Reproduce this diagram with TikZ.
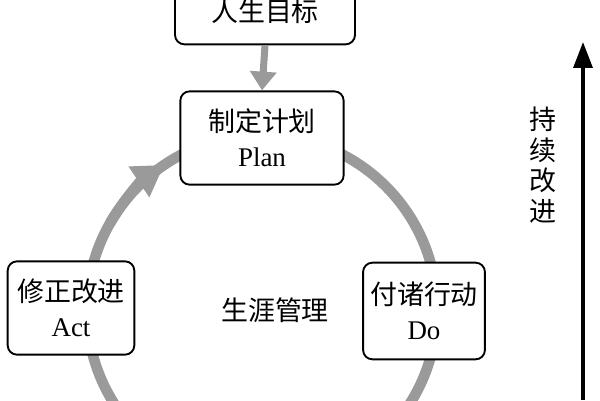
\documentclass[tikz,border=0pt]{standalone}
\usepackage{fontspec}
\setmainfont{Liberation Serif}
\newfontfamily\cjk{Noto Sans CJK SC}
\usetikzlibrary{arrows.meta,positioning}
\definecolor{cyclegray}{HTML}{9A9A9A}
\tikzset{
  stagebox/.style={draw, line width=1.6pt, rounded corners=8pt, fill=white, align=center,
    font=\fontsize{23}{30}\selectfont, inner sep=6pt},
}
\begin{document}
\begin{tikzpicture}[x=0.03cm,y=-0.03cm]
\useasboundingbox (0,0) rectangle (600,400);
\clip (0,0) rectangle (600,400);
% cycle
\draw[cyclegray, line width=9pt] (262,310) circle[radius=175];
\draw[cyclegray, line width=9pt, -{Triangle[length=26pt,width=30pt]}]
  ([shift={(210:175)}]262,310) arc[start angle=210, end angle=236, radius=175];
% boxes
\node[stagebox, minimum width=5.4cm, minimum height=2cm] (goal) at (265,11)
  {\cjk 人生目标};
\node[stagebox, minimum width=4.9cm, minimum height=2.8cm] (plan) at (262,138)
  {{\cjk 制定计划}\\Plan};
\node[stagebox, minimum width=3.8cm, minimum height=2.8cm] (act) at (71,308)
  {{\cjk 修正改进}\\Act};
\node[stagebox, minimum width=3.3cm, minimum height=2.9cm] (do) at (424,311)
  {{\cjk 付诸行动}\\Do};
\node[font=\cjk\fontsize{23}{30}\selectfont] (core) at (275,310) {生涯管理};
% goal to plan
\draw[cyclegray, line width=6pt, -{Triangle[length=16pt,width=22pt]}]
  (goal.south) -- (plan.north);
% improvement axis
\coordinate (axisbot) at (583,400);
\coordinate (axistop) at (583,42);
\draw[line width=3pt, -{Triangle[length=22pt,width=16pt]}] (axisbot) -- (axistop);
\node[font=\cjk\fontsize{23}{30}\selectfont, align=center] (keep) at (543,165)
  {持\\[-4pt]续\\[-4pt]改\\[-4pt]进};
\end{tikzpicture}
\end{document}
